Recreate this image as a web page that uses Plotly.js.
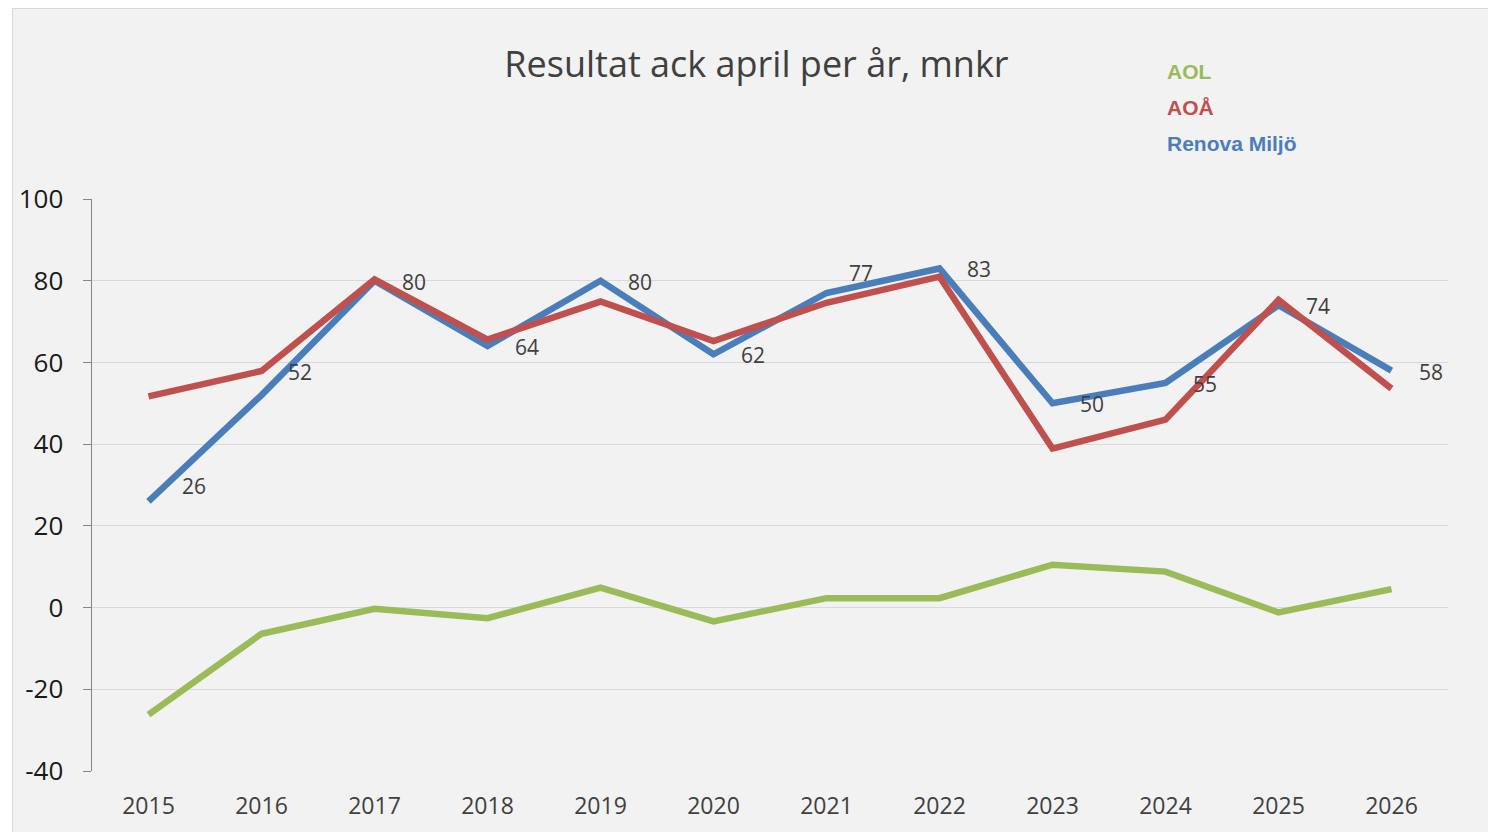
<!DOCTYPE html>
<html>
<head>
<meta charset="utf-8">
<script src="https://cdn.plot.ly/plotly-3.0.1.min.js"></script>
<style>
html,body{margin:0;padding:0;background:#ffffff;width:1488px;height:832px;overflow:hidden;}
#chart{position:absolute;left:12px;top:8px;width:1476px;height:824px;border-left:1px solid #d9d9d9;border-top:1px solid #d9d9d9;box-sizing:border-box;}
</style>
</head>
<body>
<div id="chart"></div>
<script>
const years = ["2015","2016","2017","2018","2019","2020","2021","2022","2023","2024","2025","2026"];
const aol = [-26.2, -6.4, -0.3, -2.6, 4.9, -3.4, 2.3, 2.3, 10.5, 8.8, -1.2, 4.5];
const aoa = [51.7, 57.9, 80.3, 65.6, 74.9, 65.2, 74.6, 81.0, 38.9, 46.0, 75.3, 53.6];
const renova = [26, 52, 80, 64, 80, 62, 77, 83, 50, 55, 74, 58];
const seriesNames = ["AOL", "AOÅ", "Renova Miljö"];
const colors = ["#9bbb59", "#c0504d", "#4a7ebb"];
const yTickVals = [-40, -20, 0, 20, 40, 60, 80, 100];
const yTickText = yTickVals.map(v => String(v));

const lineW = 6.5;
const traces = [
  {x: years, y: aol, name: seriesNames[0], type: "scatter", mode: "lines", line: {color: colors[0], width: lineW}},
  {x: years, y: renova, name: seriesNames[2], type: "scatter", mode: "lines", line: {color: colors[2], width: lineW}},
  {x: years, y: aoa, name: seriesNames[1], type: "scatter", mode: "lines", line: {color: colors[1], width: lineW}}
];

// label offsets (pixels) for a few crowded points
const labelShift = {0: [45, 15], 1: [38, 23], 6: [34, 20]};
const annotations = renova.map((v, i) => {
  const s = labelShift[i] || [39, -1];
  return {x: i, y: v, xref: "x", yref: "y", text: String(v), showarrow: false,
    xshift: s[0], yshift: s[1], font: {family: "Open Sans, sans-serif", size: 21, color: "#404040"}};
});

// text legend
[0, 1, 2].forEach((k, j) => {
  annotations.push({xref: "paper", yref: "paper", x: 0.7911, xanchor: "left", y: 1 + (190 - 63 - j * 36) / 572, yanchor: "middle",
    text: "<b>" + seriesNames[k] + "</b>", showarrow: false,
    font: {family: "Liberation Sans, Arial, sans-serif", size: 21, color: colors[k]}});
});

const layout = {
  width: 1476, height: 824,
  paper_bgcolor: "#f2f2f2", plot_bgcolor: "#f2f2f2",
  margin: {l: 78.5, r: 40.5, t: 190, b: 62, pad: 0},
  showlegend: false,
  title: {text: "Resultat ack april per år, mnkr", x: 0.49, xref: "paper", xanchor: "center", y: 1 - 55/824, yanchor: "middle",
    font: {family: "Open Sans, sans-serif", size: 36, color: "#404040"}},
  xaxis: {type: "category", range: [-0.5, 11.5], showgrid: false, zeroline: false, showline: false, ticks: "",
    tickfont: {family: "Open Sans, sans-serif", size: 23, color: "#404040"}, ticklabelstandoff: 19, fixedrange: true},
  yaxis: {range: [-40, 100], tickmode: "array", tickvals: yTickVals, ticktext: yTickText, showgrid: true, gridcolor: "#d9d9d9", gridwidth: 1.2, zeroline: false,
    showline: true, linecolor: "#868686", linewidth: 1.5, ticks: "outside", ticklen: 8, tickcolor: "#868686",
    tickfont: {family: "Open Sans, sans-serif", size: 26, color: "#1a1a1a"}, ticklabelstandoff: 14, fixedrange: true},
  annotations: annotations
};

Plotly.newPlot("chart", traces, layout, {displayModeBar: false, staticPlot: true});
</script>
</body>
</html>
